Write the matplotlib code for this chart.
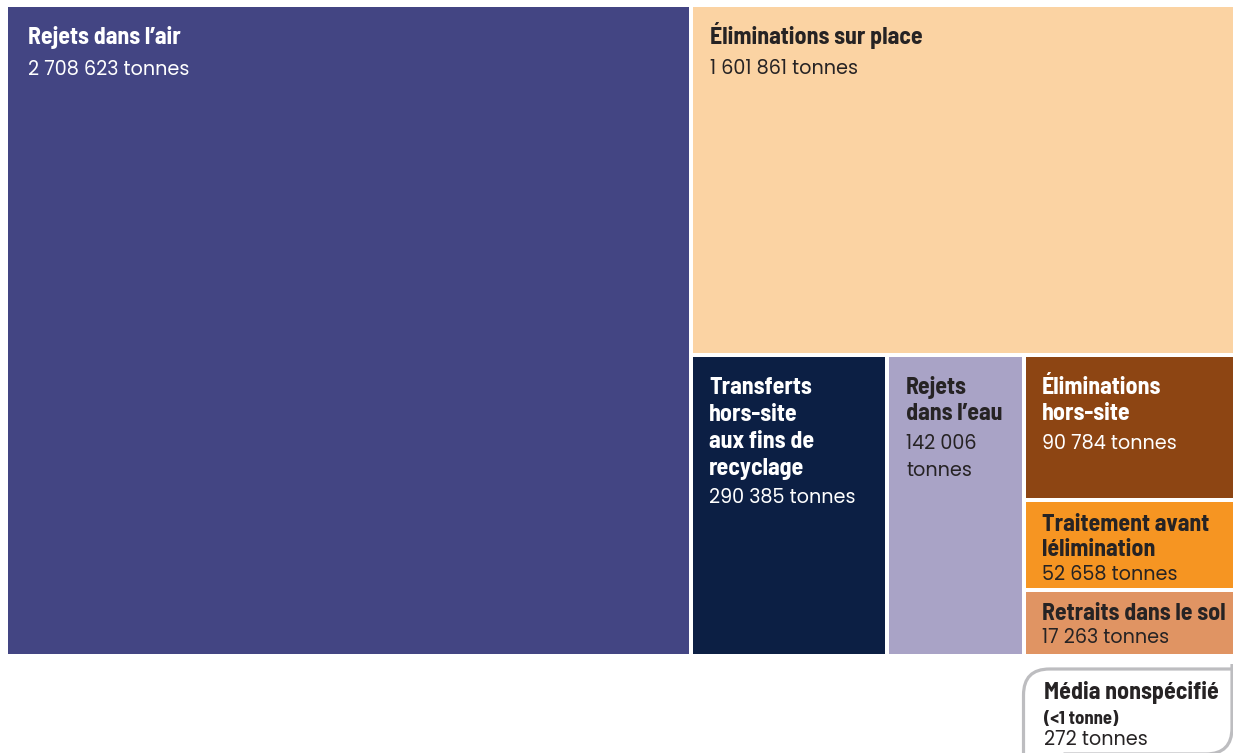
import matplotlib
matplotlib.use("Agg")
import matplotlib.pyplot as plt
from matplotlib.patches import Rectangle, PathPatch
from matplotlib.path import Path

# ---------------- data ----------------
categories = ["Rejets dans l’air", "Éliminations sur place",
              "Transferts hors-site aux fins de recyclage", "Rejets dans l’eau",
              "Éliminations hors-site", "Traitement avant lélimination",
              "Retraits dans le sol"]
values = [2708623, 1601861, 290385, 142006, 90784, 52658, 17263]
title_lines = [["Rejets dans l’air"], ["Éliminations sur place"],
               ["Transferts", "hors-site", "aux fins de", "recyclage"],
               ["Rejets", "dans l’eau"], ["Éliminations", "hors-site"],
               ["Traitement avant", "lélimination"], ["Retraits dans le sol"]]
value_wrap = [False, False, False, True, False, False, False]
unspecified_label = "Média nonspécifié"
unspecified_note = "(<1 tonne)"
unspecified_value = 272

# ---------------- styles / layout ----------------
colors = ["#434583", "#FBD3A3", "#0C1F44", "#A9A3C6", "#8D4513", "#F69522", "#E09463"]
text_colors = ["white", "#262324", "white", "#262324", "white", "#262324", "#262324"]
# baseline offset of first title line from the cell top (px)
title_offsets = [37, 37, 37, 37, 37, 29, 28]
text_pad_x = [20, 17, 16, 17, 16, 16, 16]
line_steps = [27, 27, 27, 26.5, 26.5, 25, 24]
value_steps = [31, 30, 28, 29, 29, 24, 23]

# slice-and-dice tree of cell indices; numbers are the share of the parent
# (the published figure is not strictly area proportional)
layout = ("h", [(0.5574, 0),
                (None, ("v", [(0.5376, 1),
                              (None, ("h", [(0.3603, 2), (0.2509, 3),
                                            (None, ("v", [(0.4834, 4), (0.299, 5),
                                                          (None, 6)]))]))]))])

W, H = 1233, 753
fig = plt.figure(figsize=(W / 100, H / 100), dpi=100)
ax = fig.add_axes([0, 0, 1, 1])
ax.set_xlim(0, W)
ax.set_ylim(H, 0)
ax.axis("off")

rects = {}


def place(node, x0, y0, x1, y1):
    if isinstance(node, int):
        rects[node] = (x0, y0, x1, y1)
        return
    direction, children = node
    total = x1 - x0 if direction == "h" else y1 - y0
    pos = x0 if direction == "h" else y0
    used = 0.0
    for frac, child in children:
        f = frac if frac is not None else 1 - used
        size = f * total
        if direction == "h":
            place(child, pos, y0, pos + size, y1)
        else:
            place(child, x0, pos, x1, pos + size)
        pos += size
        used += f


place(layout, 6, 5, 1235, 656)

gap = 2
bold_family = ["Barlow Semi Condensed", "Roboto Condensed", "DejaVu Sans"]
reg_family = ["Poppins", "Lato", "DejaVu Sans"]
bold = dict(family=bold_family, weight="bold", fontsize=17.2)
reg = dict(family=reg_family, fontsize=13.8)


def fmt(v):
    return f"{v:,}".replace(",", " ")


for i in range(len(values)):
    x0, y0, x1, y1 = rects[i]
    ax.add_patch(Rectangle((x0 + gap, y0 + gap), x1 - x0 - 2 * gap, y1 - y0 - 2 * gap,
                           facecolor=colors[i], edgecolor="none"))
    tx = x0 + gap + text_pad_x[i]
    ty = y0 + gap + title_offsets[i]
    for k, line in enumerate(title_lines[i]):
        if k:
            ty += line_steps[i]
        ax.text(tx, ty, line, color=text_colors[i], va="baseline", ha="left", **bold)
    vlines = [fmt(values[i]), "tonnes"] if value_wrap[i] else [fmt(values[i]) + " tonnes"]
    for line in vlines:
        ty += value_steps[i] if line == vlines[0] else 27
        ax.text(tx, ty, line, color=text_colors[i], va="baseline", ha="left", **reg)

# unspecified-media callout box below the last cell
bx0 = rects[6][0] + gap - 2
by0 = rects[6][3] + 13
bx1, by1, r = W - 1, H + 1, 26
verts = [(bx0, by1 + 5), (bx0, by0 + r), (bx0, by0), (bx0 + r, by0), (bx1 + 5, by0)]
codes = [Path.MOVETO, Path.LINETO, Path.CURVE3, Path.CURVE3, Path.LINETO]
ax.add_patch(PathPatch(Path(verts, codes), facecolor="none", edgecolor="#BDBDC0",
                       linewidth=2.3, capstyle="butt", joinstyle="round"))
verts2 = [(bx1, by0 - 5), (bx1, by1 - r), (bx1, by1), (bx1 - r, by1), (bx0 + 40, by1)]
codes2 = [Path.MOVETO, Path.LINETO, Path.CURVE3, Path.CURVE3, Path.LINETO]
ax.add_patch(PathPatch(Path(verts2, codes2), facecolor="none", edgecolor="#BDBDC0",
                       linewidth=2.3, capstyle="butt"))
tx = bx0 + 20
ax.text(tx, by0 + 30, unspecified_label, color="#262324", va="baseline", **bold)
ax.text(tx, by0 + 55, unspecified_note, color="#262324", va="baseline",
        family=bold_family, weight="bold", fontsize=13.5)
ax.text(tx, by0 + 76, fmt(unspecified_value) + " tonnes", color="#262324",
        va="baseline", **reg)

fig.savefig("out.png", dpi=100)
